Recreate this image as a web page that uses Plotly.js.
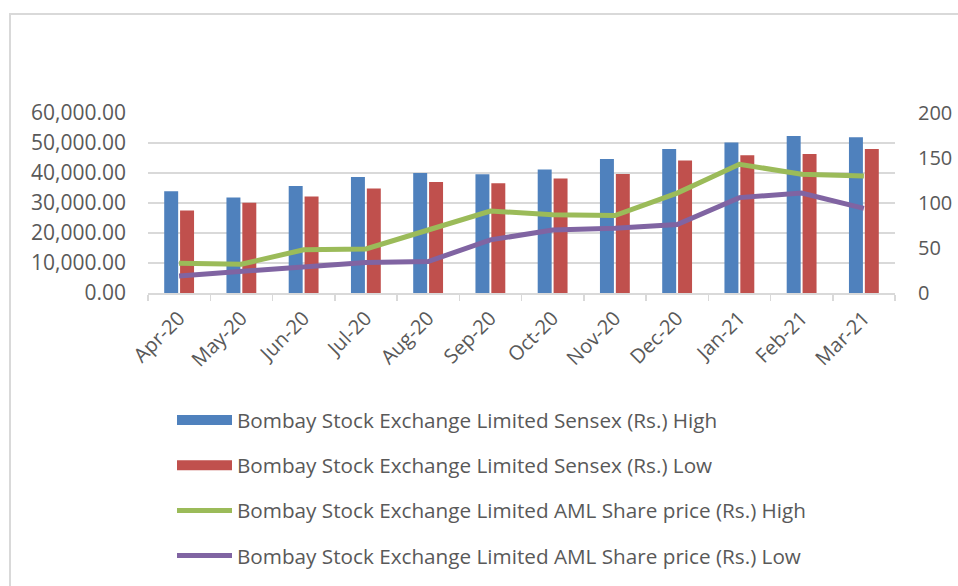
<!DOCTYPE html>
<html>
<head>
<meta charset="utf-8">
<script src="https://cdn.plot.ly/plotly-3.0.1.min.js"></script>
<style>
html,body{margin:0;padding:0;background:#fff;}
#chart{width:958px;height:586px;}
</style>
</head>
<body>
<div id="chart"></div>
<script>
const months = ["Apr-20","May-20","Jun-20","Jul-20","Aug-20","Sep-20","Oct-20","Nov-20","Dec-20","Jan-21","Feb-21","Mar-21"];
const sensexHigh = [33900, 31800, 35700, 38700, 40000, 39600, 41200, 44700, 48000, 50200, 52300, 51900];
const sensexLow  = [27500, 30100, 32200, 34800, 37000, 36600, 38200, 39700, 44200, 45900, 46300, 48000];
const amlHigh = [33, 32, 48, 49, 70, 91, 87, 86, 111, 143, 132, 130];
const amlLow  = [19, 24, 30, 34, 35, 59, 70, 72, 76, 106, 111, 94];
const leftTicks = [0, 10000, 20000, 30000, 40000, 50000, 60000];
const rightTicks = [0, 50, 100, 150, 200];

const names = [
  "Bombay Stock Exchange Limited Sensex (Rs.) High",
  "Bombay Stock Exchange Limited Sensex (Rs.) Low",
  "Bombay Stock Exchange Limited AML Share price (Rs.) High",
  "Bombay Stock Exchange Limited AML Share price (Rs.) Low"
];
const colors = ['#4f81bd', '#c0504d', '#9bbb59', '#8064a2'];

const data = [
  {type:'bar', x:months, y:sensexHigh, name:names[0], legendgroup:'a', showlegend:false, marker:{color:colors[0]}},
  {type:'bar', x:months, y:sensexLow, name:names[1], legendgroup:'b', showlegend:false, marker:{color:colors[1]}},
  {type:'scatter', mode:'lines', x:months, y:amlHigh, name:names[2], legendgroup:'c', showlegend:false, yaxis:'y2', line:{color:colors[2], width:5}},
  {type:'scatter', mode:'lines', x:months, y:amlLow, name:names[3], legendgroup:'d', showlegend:false, yaxis:'y2', line:{color:colors[3], width:5}},
  // legend entries (Excel-style wide swatches)
  {type:'scatter', mode:'lines', x:[null], y:[null], name:names[0], legendgroup:'a', line:{color:colors[0], width:13}},
  {type:'scatter', mode:'lines', x:[null], y:[null], name:names[1], legendgroup:'b', line:{color:colors[1], width:13}},
  {type:'scatter', mode:'lines', x:[null], y:[null], name:names[2], legendgroup:'c', yaxis:'y2', line:{color:colors[2], width:5}},
  {type:'scatter', mode:'lines', x:[null], y:[null], name:names[3], legendgroup:'d', yaxis:'y2', line:{color:colors[3], width:5}}
];

const W = 958, H = 586, L = 148, R = 63, T = 113, B = 293;
const pw = W - L - R, ph = H - T - B;
const px = v => (v - L) / pw;
const py = v => (H - B - v) / ph;

const layout = {
  width: W, height: H,
  margin: {l: L, r: R, t: T, b: B, autoexpand: false},
  paper_bgcolor: '#fff', plot_bgcolor: '#fff',
  font: {family: 'Open Sans, Noto Sans, sans-serif', color: '#595959', size: 20},
  barmode: 'group', bargap: 0.49, bargroupgap: 0.12,
  showlegend: true,
  legend: {
    orientation: 'v', x: px(172), y: py(400), xanchor: 'left', yanchor: 'top',
    font: {size: 20.7, color: '#595959', family: 'Open Sans, sans-serif'},
    tracegroupgap: 15.3, itemwidth: 55, bgcolor: 'rgba(0,0,0,0)', traceorder: 'grouped'
  },
  xaxis: {
    type: 'category', tickangle: -45, showgrid: false, showline: true,
    linecolor: '#d9d9d9', linewidth: 1.5, ticks: 'outside', tickson: 'boundaries',
    ticklen: 6, tickcolor: '#d9d9d9', tickwidth: 1.5,
    tickfont: {size: 20, color: '#595959'}, ticklabelstandoff: 4, fixedrange: true
  },
  yaxis: {
    range: [0, 60000], tickvals: leftTicks, ticktext: leftTicks.map(v => v.toLocaleString('en-US', {minimumFractionDigits: 2, maximumFractionDigits: 2})),
    showgrid: true, gridcolor: '#d9d9d9', gridwidth: 1.5, zeroline: false, showline: false,
    ticks: '', tickfont: {size: 21, color: '#595959'}, ticklabelstandoff: 21, fixedrange: true
  },
  yaxis2: {
    range: [0, 200], tickvals: rightTicks, overlaying: 'y', side: 'right',
    showgrid: false, zeroline: false, showline: false, ticks: '',
    tickfont: {size: 20, color: '#595959'}, ticklabelstandoff: 22, fixedrange: true
  },
  shapes: [
    {type: 'rect', xref: 'paper', yref: 'paper', x0: px(10), x1: px(970), y0: py(600), y1: py(14),
     line: {color: '#d9d9d9', width: 2}, fillcolor: 'rgba(0,0,0,0)', layer: 'below'}
  ]
};

Plotly.newPlot('chart', data, layout, {displayModeBar: false, staticPlot: true});
</script>
</body>
</html>
